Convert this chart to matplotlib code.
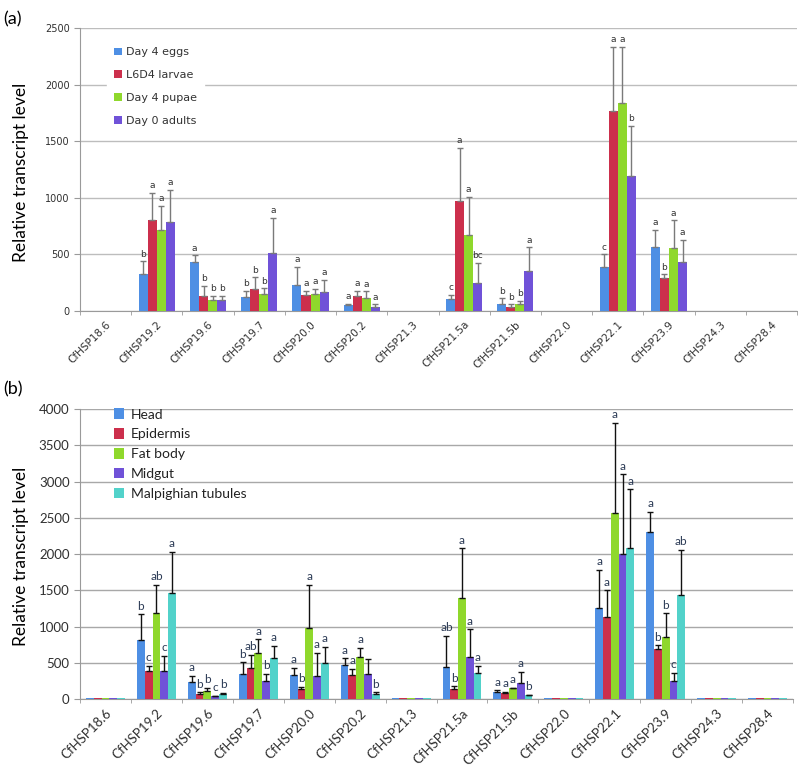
import numpy as np
import matplotlib
matplotlib.use('Agg')
import matplotlib.pyplot as plt

# ---- data ----
genes = ['CfHSP18.6', 'CfHSP19.2', 'CfHSP19.6', 'CfHSP19.7', 'CfHSP20.0', 'CfHSP20.2',
         'CfHSP21.3', 'CfHSP21.5a', 'CfHSP21.5b', 'CfHSP22.0', 'CfHSP22.1', 'CfHSP23.9',
         'CfHSP24.3', 'CfHSP28.4']

# (a) developmental stages
stage_names = ['Day 4 eggs', 'L6D4 larvae', 'Day 4 pupae', 'Day 0 adults']
eggs = [0, 323, 435, 126, 232, 50, 0, 109, 65, 0, 391, 570, 0, 0]
eggs_sd = [0, 115, 56, 50, 159, 12, 0, 35, 47, 0, 109, 150, 0, 0]
larvae = [0, 808, 135, 197, 141, 129, 0, 970, 38, 0, 1764, 291, 0, 0]
larvae_sd = [0, 239, 85, 100, 38, 50, 0, 468, 21, 0, 567, 32, 0, 0]
pupae = [0, 714, 97, 147, 153, 118, 0, 673, 65, 0, 1835, 559, 0, 0]
pupae_sd = [0, 212, 35, 53, 44, 55, 0, 335, 26, 0, 499, 241, 0, 0]
adults = [0, 788, 97, 514, 165, 32, 0, 247, 356, 0, 1194, 432, 0, 0]
adults_sd = [0, 279, 35, 312, 108, 27, 0, 179, 206, 0, 441, 194, 0, 0]
eggs_lab = ['', 'b', 'a', 'b', 'a', 'a', '', 'c', 'b', '', 'c', 'a', '', '']
larvae_lab = ['', 'a', 'b', 'b', 'a', 'a', '', 'a', 'b', '', 'a', 'b', '', '']
pupae_lab = ['', 'a', 'b', 'b', 'a', 'a', '', 'a', 'b', '', 'a', 'a', '', '']
adults_lab = ['', 'a', 'b', 'a', 'a', 'a', '', 'bc', 'a', '', 'b', 'a', '', '']

# (b) tissues
tissue_names = ['Head', 'Epidermis', 'Fat body', 'Midgut', 'Malpighian tubules']
head = [8, 818, 234, 345, 326, 474, 8, 441, 92, 8, 1251, 2308, 8, 8]
head_sd = [0, 350, 83, 161, 102, 87, 0, 428, 28, 0, 533, 271, 0, 0]
epid = [8, 391, 74, 432, 133, 331, 8, 143, 83, 8, 1127, 690, 8, 8]
epid_sd = [0, 64, 18, 180, 33, 83, 0, 32, 18, 0, 372, 50, 0, 0]
fat = [8, 1186, 106, 639, 979, 575, 8, 1393, 147, 8, 2566, 860, 8, 8]
fat_sd = [0, 386, 46, 184, 594, 133, 0, 685, 5, 0, 1241, 322, 0, 0]
midgut = [8, 391, 37, 248, 313, 340, 8, 575, 221, 8, 2000, 244, 8, 8]
midgut_sd = [0, 207, 9, 101, 321, 207, 0, 386, 156, 0, 1099, 115, 0, 0]
malp = [8, 1462, 74, 561, 501, 69, 8, 354, 55, 8, 2083, 1430, 8, 8]
malp_sd = [0, 566, 9, 170, 216, 23, 0, 106, 5, 0, 809, 625, 0, 0]
head_lab = ['', 'b', 'a', 'b', 'a', 'a', '', 'ab', 'a', '', 'a', 'a', '', '']
epid_lab = ['', 'c', 'b', 'ab', 'b', 'a', '', 'b', 'a', '', 'a', 'b', '', '']
fat_lab = ['', 'ab', 'b', 'a', 'a', 'a', '', 'a', 'a', '', 'a', 'b', '', '']
midgut_lab = ['', 'c', 'c', 'b', 'a', '', '', 'a', 'a', '', 'a', 'c', '', '']
malp_lab = ['', 'a', 'b', 'a', 'a', 'b', '', 'a', 'b', '', 'a', 'ab', '', '']

colors = ['#4E8FE4', '#CC2F4C', '#8FD82C', '#7052D8', '#52D2CA']


def draw_panel(ax, series, sds, labs, names, width, ymax, ystep, font, fs_small,
               err_color, lab_color, grid_color, lab_fs):
    x = np.arange(len(genes))
    n = len(series)
    for i in range(n):
        off = (i - (n - 1) / 2) * width
        vals = np.array(series[i], dtype=float)
        sd = np.array(sds[i], dtype=float)
        ax.bar(x + off, vals, width=width, color=colors[i], label=names[i], zorder=3)
        m = sd > 0
        ax.errorbar(x[m] + off, vals[m], yerr=[np.zeros(m.sum()), sd[m]], fmt='none',
                    ecolor=err_color, elinewidth=1, capsize=2.5, capthick=1, zorder=4)
        for j in range(len(genes)):
            if labs[i][j]:
                ax.annotate(labs[i][j], (x[j] + off, vals[j] + sd[j]), xytext=(0, 2),
                            textcoords='offset points', ha='center', va='bottom',
                            fontsize=lab_fs, color=lab_color, family=font)
    ax.set_xlim(-0.5, len(genes) - 0.5)
    ax.set_ylim(0, ymax)
    ax.set_yticks(np.arange(0, ymax + 1, ystep))
    ax.yaxis.grid(True, color=grid_color, lw=1, zorder=0)
    ax.set_axisbelow(True)
    for s in ['top', 'right']:
        ax.spines[s].set_visible(False)
    ax.spines['left'].set_color('#9A9A9A')
    ax.spines['bottom'].set_color('#9A9A9A')
    ax.set_xticks(x)
    ax.set_xticklabels(genes, rotation=45, ha='right', rotation_mode='anchor',
                       fontsize=fs_small[0], family=font, color='#303030')
    ax.tick_params(axis='x', length=0, pad=6)
    ax.set_xticks(np.arange(-0.5, len(genes)), minor=True)
    ax.tick_params(axis='x', which='minor', length=3, color='#9A9A9A')
    ax.tick_params(axis='y', length=4, color='#9A9A9A', labelsize=fs_small[1], labelcolor='#303030')
    for t in ax.get_yticklabels():
        t.set_family(font)


fig = plt.figure(figsize=(7.98, 7.68), dpi=100)

ax1 = fig.add_axes([0.1003, 0.595, 0.8985, 0.3685])
draw_panel(ax1, [eggs, larvae, pupae, adults], [eggs_sd, larvae_sd, pupae_sd, adults_sd],
           [eggs_lab, larvae_lab, pupae_lab, adults_lab], stage_names, 0.176, 2500, 500,
           'DejaVu Sans', (7.5, 7), '#7A7A7A', '#333333', '#BDBDBD', 6.5)
leg1 = ax1.legend(loc='upper left', bbox_to_anchor=(0.03, 0.975),
                  prop={'family': 'DejaVu Sans', 'size': 8},
                  frameon=True, framealpha=1, edgecolor='white', handlelength=0.7,
                  handleheight=0.7, handletextpad=0.4, labelspacing=1.15, borderpad=0.6)
for t in leg1.get_texts():
    t.set_color('#333333')

ax2 = fig.add_axes([0.1003, 0.0898, 0.8935, 0.3776])
draw_panel(ax2, [head, epid, fat, midgut, malp],
           [head_sd, epid_sd, fat_sd, midgut_sd, malp_sd],
           [head_lab, epid_lab, fat_lab, midgut_lab, malp_lab], tissue_names, 0.153, 4000, 500,
           'Lato', (9.5, 9.5), '#111111', '#2B3A55', '#A8A8A8', 8.5)
leg2 = ax2.legend(loc='upper left', bbox_to_anchor=(0.03, 1.045), frameon=False,
                  prop={'family': 'Lato', 'size': 10}, handlelength=0.7, handleheight=0.8,
                  handletextpad=0.5, labelspacing=0.55)
for t in leg2.get_texts():
    t.set_color('#222222')

fig.text(0.026, 0.776, 'Relative transcript level', rotation=90, ha='center', va='center',
         fontsize=12.5, family='Lato')
fig.text(0.026, 0.275, 'Relative transcript level', rotation=90, ha='center', va='center',
         fontsize=12.5, family='Lato')
fig.text(0.004, 0.985, '(a)', fontsize=13, family='Lato', va='top')
fig.text(0.004, 0.503, '(b)', fontsize=13, family='Lato', va='top')

fig.savefig('out.png', dpi=100)
